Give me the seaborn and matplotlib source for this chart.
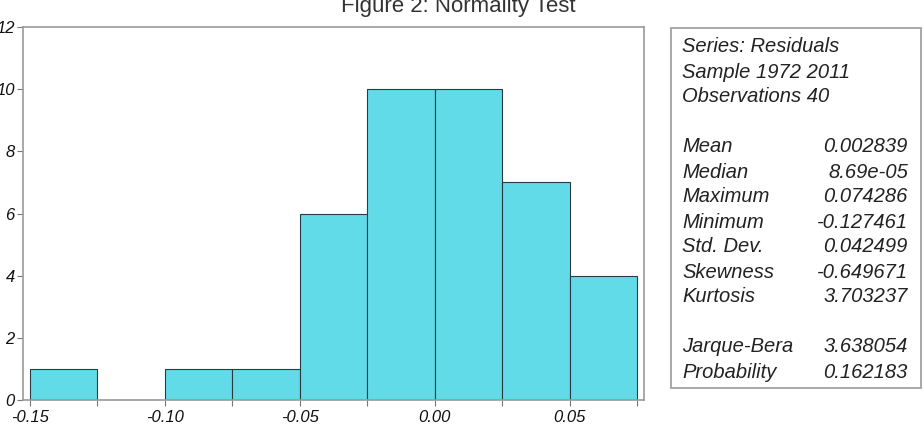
import matplotlib
matplotlib.use("Agg")
import matplotlib.pyplot as plt
import seaborn as sns
import numpy as np

bin_edges = [-0.15, -0.125, -0.10, -0.075, -0.05, -0.025, 0.0, 0.025, 0.05, 0.075]
counts = [1, 0, 1, 1, 6, 10, 10, 7, 4]
x_ticks = [-0.15, -0.10, -0.05, 0.00, 0.05]
x_tick_labels = ["-0.15", "-0.10", "-0.05", "0.00", "0.05"]
y_ticks = [0, 2, 4, 6, 8, 10, 12]

stat_labels = ["Mean", "Median", "Maximum", "Minimum", "Std. Dev.", "Skewness", "Kurtosis"]
stat_values = ["0.002839", "8.69e-05", "0.074286", "-0.127461", "0.042499", "-0.649671", "3.703237"]
test_labels = ["Jarque-Bera", "Probability"]
test_values = ["3.638054", "0.162183"]
header_lines = ["Series: Residuals", "Sample 1972 2011", "Observations 40"]

sns.set_style("white")
plt.rcParams["font.family"] = ["Liberation Sans", "DejaVu Sans"]

W, H = 924, 442
fig = plt.figure(figsize=(W / 100, H / 100), dpi=100)
ax = fig.add_axes([23 / W, 1 - 400 / H, (644 - 23) / W, (400 - 27) / H])

centers = [(a + b) / 2 for a, b in zip(bin_edges[:-1], bin_edges[1:])]
sns.histplot(x=centers, weights=counts, bins=bin_edges, ax=ax,
             color="#62dbe9", alpha=1.0, edgecolor="#2b3a40", linewidth=0.8)

ax.set_xlim(-0.1526, 0.0776)
ax.set_ylim(0, 12)
ax.set_xticks(x_ticks)
ax.set_xticklabels(x_tick_labels, fontstyle="italic", fontsize=12)
ax.set_xticks(bin_edges, minor=True)
ax.set_yticks(y_ticks)
ax.set_yticklabels([str(v) for v in y_ticks], fontstyle="italic", fontsize=12)
ax.tick_params(axis="both", which="both", direction="out", length=4, width=0.8,
               color="#777777", bottom=True, left=True, labelcolor="#111111")
ax.tick_params(axis="x", pad=3)
ax.tick_params(axis="y", pad=2)
ax.set_xlabel("")
ax.set_ylabel("")
for s in ax.spines.values():
    s.set_visible(True)
    s.set_color("#9a9a9a")
    s.set_linewidth(1.2)

fig.text(458 / W, 1 - 12 / H, "Figure 2: Normality Test", ha="center", va="baseline",
         fontsize=16, color="#333333")

# stats box
box = plt.Rectangle((671 / W, 1 - 388 / H), (921 - 671) / W, (388 - 28) / H,
                    transform=fig.transFigure, fill=False, edgecolor="#999999", linewidth=1.2)
fig.patches.append(box)

fs = 14.5
lx = 682 / W
rx = 908 / W
y = 47
for line in header_lines:
    fig.text(lx, 1 - y / H, line, ha="left", va="center", fontsize=fs, fontstyle="italic", color="#222222")
    y += 25
y += 25
for lab, val in zip(stat_labels, stat_values):
    fig.text(lx, 1 - y / H, lab, ha="left", va="center", fontsize=fs, fontstyle="italic", color="#222222")
    fig.text(rx, 1 - y / H, val, ha="right", va="center", fontsize=fs, fontstyle="italic", color="#222222")
    y += 25
y += 25
for lab, val in zip(test_labels, test_values):
    fig.text(lx, 1 - y / H, lab, ha="left", va="center", fontsize=fs, fontstyle="italic", color="#222222")
    fig.text(rx, 1 - y / H, val, ha="right", va="center", fontsize=fs, fontstyle="italic", color="#222222")
    y += 25

fig.savefig("out.png", dpi=100)
